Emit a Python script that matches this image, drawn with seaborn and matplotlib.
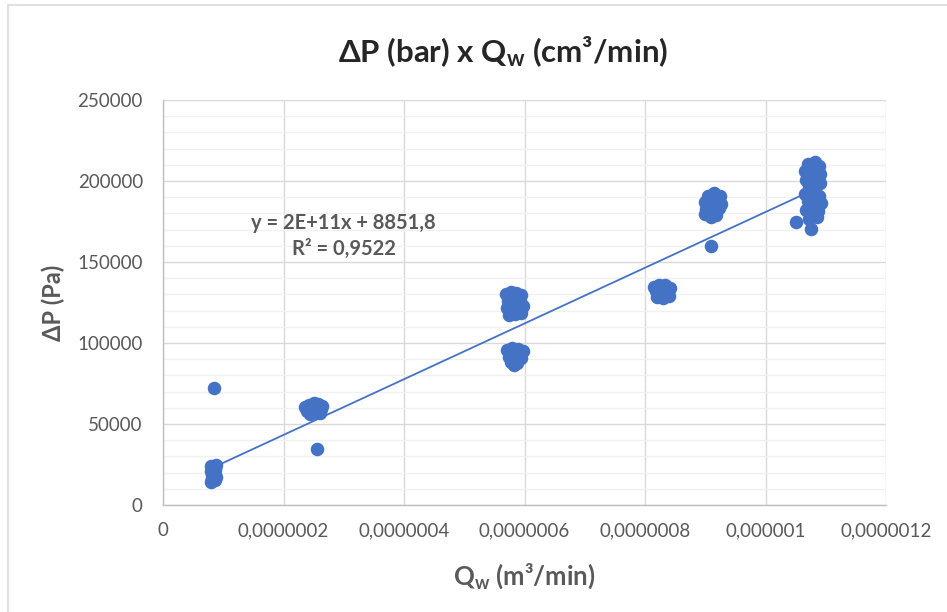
import numpy as np
import pandas as pd
import matplotlib
matplotlib.use("Agg")
import matplotlib.pyplot as plt
from matplotlib.ticker import FixedLocator, MultipleLocator
from matplotlib.patches import Rectangle
import seaborn as sns

# Flow rate Q_w (m³/min) and pressure drop ΔP (Pa), grouped by test condition
qw_a = [8.0e-8, 8.6e-8, 8.2e-8, 8.8e-8, 8.1e-8, 8.5e-8, 7.9e-8, 8.7e-8, 8.3e-8, 8.6e-8, 8.0e-8, 8.8e-8, 8.4e-8, 8.2e-8, 8.4e-8]
dp_a = [14500, 15200, 16800, 17500, 18900, 19800, 21000, 21500, 22600, 23400, 24200, 24600, 20300, 15900, 72000]

qw_b = [2.36e-7, 2.42e-7, 2.50e-7, 2.58e-7, 2.64e-7, 2.39e-7, 2.47e-7, 2.55e-7, 2.62e-7, 2.44e-7, 2.52e-7, 2.60e-7, 2.56e-7]
dp_b = [60500, 62000, 62800, 62300, 61200, 58000, 59500, 60800, 59000, 56000, 57200, 56500, 34500]

qw_c = [5.70e-7, 5.78e-7, 5.86e-7, 5.95e-7, 5.72e-7, 5.82e-7, 5.92e-7, 5.71e-7, 5.80e-7, 5.90e-7, 5.97e-7, 5.74e-7, 5.85e-7, 5.94e-7,
        5.71e-7, 5.80e-7, 5.90e-7, 5.98e-7, 5.74e-7, 5.84e-7, 5.95e-7, 5.78e-7, 5.87e-7, 5.83e-7]
dp_c = [130500, 131200, 130800, 129900, 126000, 127200, 125800, 121500, 122300, 121800, 123000, 117500, 118200, 118800,
        95500, 96800, 96200, 94800, 91500, 92300, 91000, 88200, 87600, 86400]

qw_d = [8.15e-7, 8.24e-7, 8.33e-7, 8.41e-7, 8.18e-7, 8.28e-7, 8.38e-7, 8.20e-7, 8.30e-7, 8.40e-7]
dp_d = [134800, 136000, 135500, 133900, 131800, 132500, 131200, 128600, 128000, 129200]

qw_e = [9.05e-7, 9.15e-7, 9.24e-7, 8.99e-7, 9.10e-7, 9.20e-7, 9.26e-7, 9.02e-7, 9.12e-7, 9.22e-7, 9.00e-7, 9.10e-7, 9.18e-7, 9.09e-7]
dp_e = [190500, 192600, 191000, 187000, 188200, 187500, 186000, 183000, 182400, 183600, 179500, 178000, 178800, 160000]

qw_f = [1.070e-6, 1.082e-6, 1.088e-6, 1.066e-6, 1.078e-6, 1.090e-6, 1.068e-6, 1.080e-6, 1.091e-6, 1.072e-6, 1.084e-6, 1.066e-6,
        1.079e-6, 1.089e-6, 1.070e-6, 1.083e-6, 1.092e-6, 1.068e-6, 1.077e-6, 1.087e-6, 1.072e-6, 1.085e-6, 1.075e-6, 1.050e-6]
dp_f = [210500, 211500, 209000, 206000, 205500, 204200, 200500, 201500, 199000, 196500, 197200, 192000,
        193500, 191000, 187500, 188500, 186500, 182000, 183200, 181500, 176800, 177500, 170500, 174700]

# Linear trendline coefficients and fit quality
trend_slope = 1.72e11
trend_intercept = 8851.8
trend_r2 = 0.9522

x_ticks = [0, 2e-7, 4e-7, 6e-7, 8e-7, 1e-6, 1.2e-6]
x_tick_labels = ["0", "0,0000002", "0,0000004", "0,0000006", "0,0000008", "0,000001", "0,0000012"]
y_ticks = [0, 50000, 100000, 150000, 200000, 250000]
y_tick_labels = ["0", "50000", "100000", "150000", "200000", "250000"]

qw = qw_a + qw_b + qw_c + qw_d + qw_e + qw_f
dp = dp_a + dp_b + dp_c + dp_d + dp_e + dp_f
df = pd.DataFrame({"Qw": qw, "dP": dp})

sns.set_theme(style="white")
plt.rcParams["font.family"] = ["Lato", "DejaVu Sans"]
plt.rcParams["mathtext.default"] = "regular"

blue = "#4472C4"
text_gray = "#595959"
axis_gray = "#BFBFBF"

fig = plt.figure(figsize=(9.47, 6.12), dpi=100)
ax = fig.add_axes([163 / 947, 1 - 505 / 612, (886 - 163) / 947, (505 - 100) / 612])

# trendline spanning the measured flow range
x_line = np.array([min(qw), max(qw)])
trend_df = pd.DataFrame({"Qw": x_line, "dP": trend_slope * x_line + trend_intercept})
sns.lineplot(data=trend_df, x="Qw", y="dP", ax=ax, color=blue, linewidth=1.3, zorder=2)

sns.scatterplot(data=df, x="Qw", y="dP", ax=ax, color=blue, s=95, linewidth=0, alpha=1, zorder=3)

ax.set_xlim(0, 1.2e-6)
ax.set_ylim(0, 250000)
ax.xaxis.set_major_locator(FixedLocator(x_ticks))
ax.set_xticklabels(x_tick_labels)
ax.yaxis.set_major_locator(FixedLocator(y_ticks))
ax.set_yticklabels(y_tick_labels)
ax.yaxis.set_minor_locator(MultipleLocator(10000))

ax.grid(which="major", axis="both", color="#D9D9D9", linewidth=1.0, zorder=0)
ax.grid(which="minor", axis="y", color="#F0F0F0", linewidth=1.0, zorder=0)
ax.set_axisbelow(True)

for side in ["top", "right"]:
    ax.spines[side].set_visible(False)
for side in ["left", "bottom"]:
    ax.spines[side].set_color(axis_gray)
    ax.spines[side].set_linewidth(1.0)

ax.tick_params(axis="both", which="major", length=3.5, width=1, color=axis_gray,
               labelsize=13.5, labelcolor=text_gray, direction="out")
ax.tick_params(axis="x", pad=9)
ax.tick_params(axis="y", pad=11)
ax.tick_params(which="minor", length=0)

ax.set_xlabel("Q$_{w}$ (m³/min)", fontsize=18.5, fontweight="bold", color=text_gray, labelpad=16)
ax.set_ylabel("ΔP (Pa)", fontsize=17, fontweight="bold", color=text_gray, labelpad=9)

fig.text(503 / 947, 1 - 52 / 612, "ΔP (bar) x Q$_{w}$ (cm³/min)", ha="center", va="center",
         fontsize=22.5, fontweight="bold", color="#262626")

slope_txt = f"{trend_slope:.0E}"
eq_txt = f"y = {slope_txt}x + {trend_intercept:.1f}".replace(".", ",")
r2_txt = f"R² = {trend_r2:.4f}".replace(".", ",")
ax.text(3.0e-7, 166000, eq_txt + "\n" + r2_txt, ha="center", va="center", multialignment="center",
        fontsize=14.5, fontweight="bold", color=text_gray, linespacing=1.4)

# outer chart frame
fig.patches.append(Rectangle((8 / 947, -0.01), 1.0, 1 - 5 / 612 + 0.01, transform=fig.transFigure,
                             fill=False, edgecolor="#D9D9E8", linewidth=1.2))

fig.savefig("out.png", dpi=100)
